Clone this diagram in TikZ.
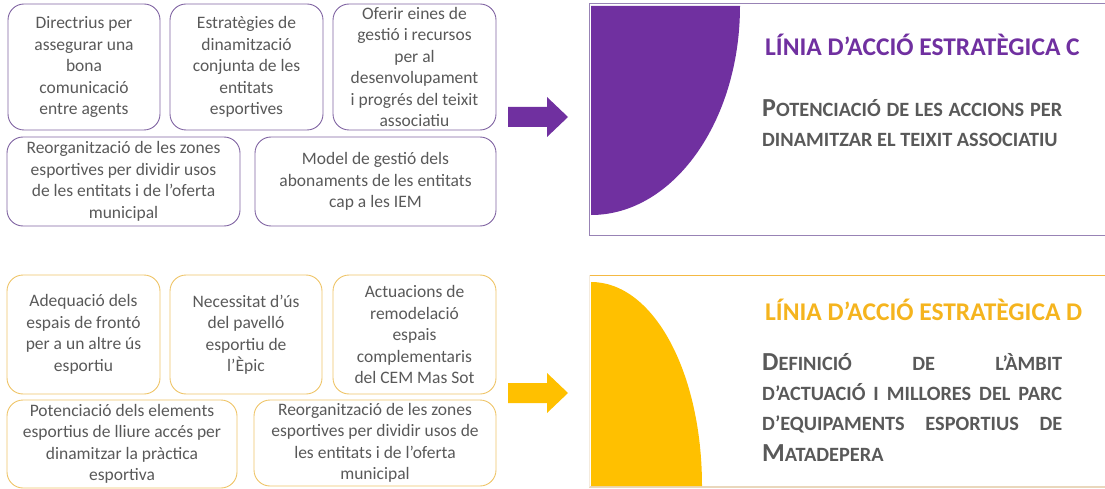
\documentclass[tikz,border=0pt]{standalone}
\usepackage{fontspec}
\setmainfont{Carlito}
\definecolor{purp}{HTML}{7030A0}
\definecolor{purpline}{HTML}{8064A2}
\definecolor{panelC}{HTML}{9883B5}
\definecolor{yel}{HTML}{FFC000}
\definecolor{yeltitle}{HTML}{F5B41E}
\definecolor{yelline}{HTML}{EEC468}
\definecolor{panelDtop}{HTML}{F4B944}
\definecolor{panelDbot}{HTML}{E9D7BC}
\definecolor{txt}{HTML}{595959}
\newcommand\capbig[1]{{\fontsize{26}{30.3}\selectfont #1}}
\tikzset{
  box/.style={draw, rounded corners=16pt, line width=0.9pt, align=center, inner sep=0pt,
    text=txt, font=\fontsize{17.5}{21.5}\selectfont},
  topbox/.style={box, draw=purpline},
  botbox/.style={box, draw=yelline},
  title/.style={anchor=west, inner sep=0pt, font=\fontsize{25.5}{28}\selectfont\bfseries},
  sub/.style={anchor=north west, inner sep=0pt, text width=300pt, align=justify, text=txt,
    font=\fontsize{20.3}{30.3}\selectfont\bfseries},
}
\begin{document}
\begin{tikzpicture}[x=1pt,y=-1pt]
\useasboundingbox (0,0) rectangle (1105,489);
% ---- top group
\node[topbox, minimum width=152pt, minimum height=126pt] (b1) at (84,67) {Directrius per\\assegurar una\\bona\\comunicació\\entre agents};
\node[topbox, minimum width=153pt, minimum height=126pt] (b2) at (246.5,67) {Estratègies de\\dinamització\\conjunta de les\\entitats\\esportives};
\node[topbox, minimum width=163pt, minimum height=126pt] (b3) at (414.5,67) {Oferir eines de\\gestió i recursos\\per al\\desenvolupament\\i progrés del teixit\\associatiu};
\node[topbox, minimum width=233pt, minimum height=89pt] (b4) at (123.5,181.5) {Reorganització de les zones\\esportives per dividir usos\\de les entitats i de l’oferta\\municipal};
\node[topbox, minimum width=241pt, minimum height=89pt] (b5) at (375.5,181.5) {Model de gestió dels\\abonaments de les entitats\\cap a les IEM};
% ---- bottom group
\node[botbox, minimum width=153pt, minimum height=119pt] (c1) at (83.5,334.5) {Adequació dels\\espais de frontó\\per a un altre ús\\esportiu};
\node[botbox, minimum width=152pt, minimum height=119pt] (c2) at (246,334.5) {Necessitat d’ús\\del pavelló\\esportiu de\\l’Èpic};
\node[botbox, minimum width=163pt, minimum height=119pt] (c3) at (414.5,334.5) {Actuacions de\\remodelació\\espais\\complementaris\\del CEM Mas Sot};
\node[botbox, minimum width=230pt, minimum height=88pt] (c4) at (122,444) {Potenciació dels elements\\esportius de lliure accés per\\dinamitzar la pràctica\\esportiva};
\node[botbox, minimum width=242pt, minimum height=86pt] (c5) at (375,443) {Reorganització de les zones\\esportives per dividir usos de\\les entitats i de l’oferta\\municipal};
% ---- arrows
\fill[purp] (508,107) -- (547,107) -- (547,97) -- (568,117) -- (547,137) -- (547,127) -- (508,127) -- cycle;
\fill[yel] (508,383) -- (547,383) -- (547,373) -- (568,393) -- (547,413) -- (547,403) -- (508,403) -- cycle;
% ---- panel C
\draw[panelC, line width=1pt] (1110,4) -- (589,4) -- (589,235) -- (1110,235);
\fill[purp] (591,6) -- (740,6) .. controls (740,121.4) and (673.3,215) .. (591,215) -- cycle;
\node[title, text=purp] (tc) at (765,45) {LÍNIA D’ACCIÓ ESTRATÈGICA C};
\node[sub] (sc) at (762,99) {\capbig{P}OTENCIACIÓ DE LES ACCIONS PER\linebreak DINAMITZAR EL TEIXIT ASSOCIATIU};
% ---- panel D
\draw[panelDtop, line width=1pt] (589,275) -- (1110,275);
\draw[panelDbot, line width=1.2pt] (589,487) -- (1110,487);
\draw[panelDbot!50, line width=0.6pt] (589,275) -- (589,487);
\fill[yel] (591,486) -- (591,282) .. controls (654,282) and (702,373.3) .. (702,486) -- cycle;
\node[title, text=yeltitle] (td) at (765,310) {LÍNIA D’ACCIÓ ESTRATÈGICA D};
\node[sub] (sd) at (762,353) {\capbig{D}EFINICIÓ DE L’ÀMBIT\linebreak D’ACTUACIÓ I MILLORES DEL PARC\linebreak D’EQUIPAMENTS ESPORTIUS DE\linebreak \capbig{M}ATADEPERA};
\end{tikzpicture}
\end{document}
